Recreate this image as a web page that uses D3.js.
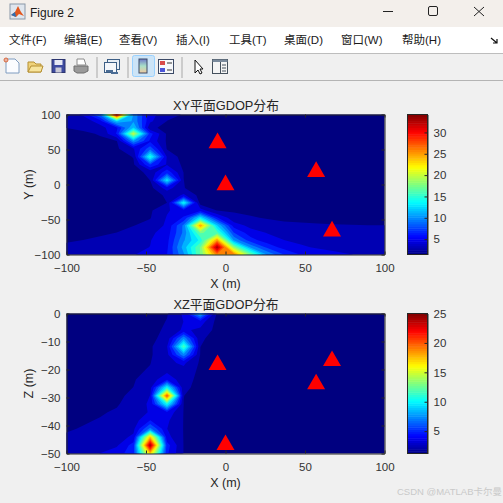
<!DOCTYPE html>
<html>
<head>
<meta charset="utf-8">
<script src="https://cdn.jsdelivr.net/npm/d3@7"></script>
<style>
html, body { margin: 0; padding: 0; background: #f0f0f0; overflow: hidden; }
svg { display: block; }
text { font-family: "Liberation Sans", "Noto Sans CJK SC", sans-serif; }
</style>
</head>
<body>
<svg id="fig" width="503" height="503"></svg>
<script>
var menuLabels = ['文件(F)', '编辑(E)', '查看(V)', '插入(I)', '工具(T)', '桌面(D)', '窗口(W)', '帮助(H)']
var menuStarts = [9, 64, 119, 176, 229, 284, 341, 402]

// grid the surfaces were read on
var xGrid = [-100, -89.5, -78.9, -68.4, -57.9, -47.4, -36.8, -26.3, -15.8, -5.3, 5.3, 15.8, 26.3, 36.8, 47.4, 57.9, 68.4, 78.9, 89.5, 100]
var yGrid = [100, 90.5, 81, 72.5, 62, 51, 39.5, 28.5, 17, 6, -5, -15.5, -26, -37, -47.5, -58.5, -69, -79.5, -89.5, -100]
var zGrid = [0, -2.94, -5.88, -8.82, -11.76, -14.71, -17.65, -20.59, -23.53, -26.47, -29.41, -32.35, -35.29, -38.24, -41.18, -44.12, -47.06, -50]

// GDOP, one row per y (top to bottom)
var xyGdop = [
  [3.6, 5, 10, 34, 11, 5.2, 3.8, 2.9, 2.5, 2.2, 2, 1.9, 1.8, 1.8, 1.9, 2, 2.1, 2.2, 2.3, 2.4],
  [3.3, 3.6, 5.5, 13, 11, 5, 3, 2.7, 2.4, 2.1, 1.9, 1.8, 1.7, 1.7, 1.8, 1.9, 2, 2.1, 2.2, 2.3],
  [3.05, 3.2, 4, 6, 13, 3.3, 2.7, 2.5, 2.3, 2, 1.8, 1.7, 1.6, 1.6, 1.7, 1.8, 1.9, 2, 2.1, 2.2],
  [2.7, 2.9, 3.1, 6.5, 21, 7, 2.8, 2.4, 2.2, 1.9, 1.7, 1.6, 1.6, 1.6, 1.6, 1.7, 1.8, 1.9, 2, 2.1],
  [2.4, 2.5, 2.9, 2.95, 11, 6, 2.8, 2.3, 2.1, 1.8, 1.7, 1.6, 1.5, 1.5, 1.6, 1.6, 1.7, 1.8, 1.9, 2],
  [2.2, 2.2, 2.4, 2.8, 4.5, 9, 2.9, 2.4, 2.1, 1.8, 1.6, 1.5, 1.5, 1.5, 1.5, 1.6, 1.6, 1.7, 1.8, 1.9],
  [2.1, 2.1, 2.2, 2.5, 3.1, 15.5, 4.5, 2.2, 2.1, 1.8, 1.6, 1.5, 1.5, 1.5, 1.5, 1.5, 1.6, 1.7, 1.8, 1.9],
  [2, 2, 2.1, 2.3, 2.8, 8, 4.5, 2.7, 2.2, 1.8, 1.6, 1.5, 1.5, 1.5, 1.5, 1.5, 1.6, 1.7, 1.8, 1.8],
  [1.9, 2, 2, 2.2, 2.5, 3.4, 7.5, 3, 2.2, 1.8, 1.6, 1.5, 1.5, 1.5, 1.5, 1.5, 1.6, 1.6, 1.7, 1.8],
  [1.9, 1.9, 2, 2.1, 2.2, 3.05, 14, 3.05, 2.3, 1.8, 1.6, 1.6, 1.5, 1.5, 1.5, 1.5, 1.6, 1.6, 1.7, 1.8],
  [1.8, 1.9, 1.9, 2, 2.1, 2.5, 5.5, 3.1, 2.3, 1.9, 1.7, 1.6, 1.5, 1.5, 1.5, 1.6, 1.6, 1.7, 1.7, 1.8],
  [1.8, 1.8, 1.9, 2, 2, 2.3, 3.3, 5, 2.4, 2, 1.8, 1.7, 1.6, 1.6, 1.6, 1.6, 1.7, 1.7, 1.8, 1.8],
  [1.8, 1.9, 1.9, 2, 2.1, 2.6, 3.04, 15, 2.2, 2.5, 2.2, 2, 1.9, 1.8, 1.8, 1.8, 1.8, 1.9, 1.9, 1.9],
  [1.9, 1.9, 2, 2.1, 2.3, 2.8, 4.5, 5.5, 5.5, 3, 2.8, 2.6, 2.4, 2.3, 2.2, 2.2, 2.2, 2.2, 2.2, 2.2],
  [2, 2.1, 2.2, 2.3, 2.6, 2.95, 4.8, 6.5, 14, 6.5, 3.6, 3.2, 2.9, 2.7, 2.6, 2.55, 2.5, 2.5, 2.5, 2.5],
  [2.2, 2.3, 2.5, 2.8, 3, 3.5, 5, 10, 26, 13, 5.5, 4.2, 3.7, 3.4, 3.3, 3.2, 3.15, 3.1, 3.05, 3.05],
  [2.6, 2.7, 2.9, 3.05, 3.6, 4.3, 5.5, 10, 18, 17, 8, 5.4, 4.6, 4.1, 3.8, 3.6, 3.5, 3.4, 3.35, 3.3],
  [2.95, 3.05, 3.2, 3.6, 3.9, 4.6, 5.8, 11, 15, 26, 11, 7, 5.4, 4.7, 4.3, 4.1, 3.9, 3.8, 3.7, 3.6],
  [3.2, 3.4, 3.8, 4, 4.4, 4.7, 6, 12, 18, 34, 19, 11, 7.5, 5.6, 4.9, 4.5, 4.3, 4.1, 4, 3.9],
  [3.4, 3.6, 4, 4.2, 4.6, 5.2, 6.3, 11, 18, 27, 27, 18, 11, 8, 6.2, 5.5, 5, 4.7, 4.5, 4.3]
]

// one row per z (top to bottom)
var xzGdop = [
  [1.6, 1.6, 1.7, 1.7, 1.8, 1.9, 2.3, 3.8, 9, 2.2, 1.8, 1.6, 1.5, 1.4, 1.4, 1.4, 1.4, 1.4, 1.5, 1.5],
  [1.6, 1.6, 1.7, 1.7, 1.8, 1.9, 2.45, 3.6, 4.2, 2, 1.8, 1.6, 1.5, 1.4, 1.4, 1.4, 1.4, 1.4, 1.5, 1.5],
  [1.6, 1.7, 1.7, 1.8, 1.9, 2, 2.6, 3.8, 3.3, 2, 1.8, 1.6, 1.5, 1.4, 1.4, 1.4, 1.4, 1.4, 1.5, 1.5],
  [1.7, 1.7, 1.8, 1.8, 1.9, 2.1, 2.8, 8, 2.6, 1.9, 1.7, 1.6, 1.5, 1.4, 1.4, 1.4, 1.4, 1.4, 1.5, 1.5],
  [1.7, 1.7, 1.8, 1.9, 1.9, 2.2, 3.5, 12.5, 2.4, 1.8, 1.7, 1.6, 1.5, 1.4, 1.4, 1.4, 1.4, 1.4, 1.5, 1.5],
  [1.7, 1.8, 1.8, 1.9, 2, 2.25, 3.2, 8, 2.3, 1.8, 1.7, 1.6, 1.5, 1.4, 1.4, 1.4, 1.4, 1.4, 1.5, 1.5],
  [1.8, 1.8, 1.9, 1.9, 2.1, 2.35, 3.3, 3.8, 2.2, 1.8, 1.7, 1.6, 1.5, 1.4, 1.4, 1.4, 1.4, 1.4, 1.5, 1.5],
  [1.8, 1.9, 1.9, 2, 2.2, 2.5, 3.3, 3.2, 2.1, 1.8, 1.7, 1.6, 1.5, 1.4, 1.4, 1.4, 1.4, 1.5, 1.5, 1.5],
  [1.9, 1.9, 2, 2.1, 2.3, 2.9, 4.5, 2.8, 2.1, 1.8, 1.7, 1.6, 1.5, 1.5, 1.4, 1.4, 1.5, 1.5, 1.5, 1.5],
  [1.9, 2, 2, 2.1, 2.4, 3.1, 11, 2.6, 2.1, 1.8, 1.7, 1.6, 1.5, 1.5, 1.5, 1.5, 1.5, 1.5, 1.5, 1.6],
  [2, 2, 2.1, 2.2, 2.6, 3.6, 21, 2.4, 2.1, 1.8, 1.7, 1.6, 1.6, 1.5, 1.5, 1.5, 1.5, 1.5, 1.6, 1.6],
  [2, 2.1, 2.1, 2.3, 2.8, 3.8, 11, 2.38, 2.1, 1.9, 1.7, 1.7, 1.6, 1.6, 1.5, 1.5, 1.5, 1.6, 1.6, 1.6],
  [2.1, 2.1, 2.3, 2.5, 2.9, 3.7, 4.5, 2.35, 2.1, 1.9, 1.8, 1.7, 1.6, 1.6, 1.6, 1.6, 1.6, 1.6, 1.6, 1.7],
  [2.1, 2.3, 2.45, 2.7, 3, 4.8, 3.8, 2.35, 2.1, 1.9, 1.8, 1.7, 1.7, 1.6, 1.6, 1.6, 1.6, 1.6, 1.7, 1.7],
  [2.3, 2.45, 2.6, 2.9, 3.3, 7.5, 3.6, 2.35, 2.1, 1.9, 1.8, 1.7, 1.7, 1.6, 1.6, 1.6, 1.6, 1.7, 1.7, 1.7],
  [2.5, 2.6, 2.8, 3.1, 3.8, 18, 4, 2.35, 2.1, 1.9, 1.8, 1.7, 1.7, 1.7, 1.6, 1.6, 1.7, 1.7, 1.7, 1.7],
  [2.6, 2.8, 3, 3.4, 5.3, 25, 5.3, 2.35, 2.1, 1.9, 1.8, 1.7, 1.7, 1.7, 1.7, 1.7, 1.7, 1.7, 1.7, 1.8],
  [2.8, 3, 3.6, 4.2, 5.5, 18, 5, 2.35, 2.1, 1.9, 1.8, 1.8, 1.7, 1.7, 1.7, 1.7, 1.7, 1.7, 1.8, 1.8]
]

// base stations
var stationX = [-5, 0, 57, 67]
var stationY = [63, 3, 22, -63]
var stationZ = [-17.4, -46, -24.3, -16]

var xTicks = [-100, -50, 0, 50, 100]
var yTicks = [-100, -50, 0, 50, 100]
var zTicks = [-50, -40, -30, -20, -10, 0]
var cbTicks1 = [5, 10, 15, 20, 25, 30]
var cbTicks2 = [5, 10, 15, 20, 25]
var range1 = [1.4, 34.2]
var range2 = [1.2, 25]

var svg = d3.select('#fig'),
    ink = '#262626',
    plotLeft = 66.5,
    plotRight = 384.5,
    barLeft = 407.5,
    barRight = 427.5,
    nLevels = 20

var jet = d3.scaleLinear()
    .domain([0, 1/8, 3/8, 5/8, 7/8, 1])
    .range(['#000080', '#0000ff', '#00ffff', '#ffff00', '#ff0000', '#800000'])

drawWindow()

drawPanel({
    top: 114.5, bottom: 254.5, rows: yGrid, yDomain: [-100, 100], yTicks: yTicks,
    gdop: xyGdop, range: range1, stations: stationY, cbTicks: cbTicks1,
    title: 'XY平面GDOP分布', ylabel: 'Y (m)', id: 'clipA'
})
drawPanel({
    top: 313.5, bottom: 453.5, rows: zGrid, yDomain: [-50, 0], yTicks: zTicks,
    gdop: xzGdop, range: range2, stations: stationZ, cbTicks: cbTicks2,
    title: 'XZ平面GDOP分布', ylabel: 'Z (m)', id: 'clipB'
})

function drawPanel(p) {
    var x = d3.scaleLinear().domain([-100, 100]).range([plotLeft, plotRight])
    var y = d3.scaleLinear().domain(p.yDomain).range([p.bottom, p.top])
    var nx = xGrid.length, ny = p.rows.length

    // d3.contours puts sample i at i + 0.5
    var gridX = d3.scaleLinear()
        .domain(xGrid.map(function(d, i) { return i + 0.5 }))
        .range(xGrid.map(function(d) { return x(d) }))
    var gridY = d3.scaleLinear()
        .domain(p.rows.map(function(d, i) { return i + 0.5 }))
        .range(p.rows.map(function(d) { return y(d) }))
    var path = d3.geoPath(d3.geoTransform({
        point: function(a, b) { this.stream.point(gridX(a), gridY(b)) }
    }))

    var lo = p.range[0], hi = p.range[1]
    var levels = d3.range(nLevels).map(function(k) { return lo + k * (hi - lo) / nLevels })
    var color = d3.scaleLinear().domain([lo, hi]).range([0, 1])

    svg.append('clipPath').attr('id', p.id).append('rect')
        .attr('x', plotLeft).attr('y', p.top)
        .attr('width', plotRight - plotLeft).attr('height', p.bottom - p.top)

    svg.append('g').attr('clip-path', 'url(#' + p.id + ')')
        .selectAll('path')
        .data(d3.contours().size([nx, ny]).thresholds(levels)(d3.merge(p.gdop)))
        .join('path')
        .attr('d', path)
        .attr('fill', function(d) { return jet(color(d.value)) })

    // stations, marker centre is mid height of the triangle
    var tri = d3.symbol().type(d3.symbolTriangle).size(140)
    svg.append('g').selectAll('path')
        .data(stationX)
        .join('path')
        .attr('d', tri)
        .attr('fill', '#ff0000')
        .attr('transform', function(d, i) {
            return 'translate(' + x(d) + ',' + (y(p.stations[i]) + 2.6) + ')'
        })

    axisGroup(d3.axisBottom(x).tickValues(xTicks).tickPadding(9), 0, p.bottom)
    axisGroup(d3.axisLeft(y).tickValues(p.yTicks).tickPadding(6), plotLeft, 0)
    axisGroup(d3.axisTop(x).tickValues(xTicks).tickFormat(''), 0, p.top)
    axisGroup(d3.axisRight(y).tickValues(p.yTicks).tickFormat(''), plotRight, 0)

    svg.append('text')
        .attr('x', (plotLeft + plotRight) / 2 + 0.5).attr('y', p.top - 5)
        .attr('text-anchor', 'middle')
        .attr('font-size', 12.8)
        .attr('fill', ink)
        .text(p.title)

    svg.append('text')
        .attr('x', (plotLeft + plotRight) / 2).attr('y', p.bottom + 33)
        .attr('text-anchor', 'middle')
        .attr('font-size', 12.5)
        .attr('fill', ink)
        .text('X (m)')

    svg.append('text')
        .attr('transform', 'translate(33,' + (p.top + p.bottom) / 2 + ') rotate(-90)')
        .attr('text-anchor', 'middle')
        .attr('font-size', 12.5)
        .attr('fill', ink)
        .text(p.ylabel)

    // colorbar
    var cb = d3.scaleLinear().domain(p.range).range([p.bottom, p.top])
    var steps = d3.range(64)
    var stepH = (p.bottom - p.top) / steps.length
    svg.append('g').selectAll('rect')
        .data(steps)
        .join('rect')
        .attr('x', barLeft)
        .attr('width', barRight - barLeft)
        .attr('y', function(d) { return p.bottom - (d + 1) * stepH })
        .attr('height', stepH + 0.5)
        .attr('fill', function(d) { return jet((d + 0.5) / steps.length) })
    axisGroup(d3.axisRight(cb).tickValues(p.cbTicks).tickPadding(6), barRight, 0)
    svg.append('rect')
        .attr('x', barLeft).attr('y', p.top)
        .attr('width', barRight - barLeft).attr('height', p.bottom - p.top)
        .attr('fill', 'none').attr('stroke', ink).attr('stroke-width', 1)
}

// inward MATLAB style ticks
function axisGroup(axis, tx, ty) {
    var g = svg.append('g')
        .attr('transform', 'translate(' + tx + ',' + ty + ')')
        .call(axis.tickSizeInner(-3).tickSizeOuter(0))
    g.selectAll('path, line').attr('stroke', ink).attr('stroke-width', 1)
    g.selectAll('text')
        .attr('font-family', '"Liberation Sans", sans-serif')
        .attr('font-size', 11.5).attr('fill', '#333333')
    return g
}

function drawWindow() {
    svg.append('rect').attr('width', 503).attr('height', 503).attr('fill', '#f0f0f0')

    // title bar
    svg.append('rect').attr('width', 503).attr('height', 27).attr('fill', '#f3efeb')
    var logo = svg.append('g').attr('transform', 'translate(10,4)')
    logo.append('rect').attr('width', 15).attr('height', 15).attr('fill', '#dfe6ee').attr('stroke', '#8a98a8')
    logo.append('path').attr('d', 'M1 11L5 8L8 2L11 8L14 12L9 10L6 13Z').attr('fill', '#e2571e')
    logo.append('path').attr('d', 'M1 11L5 8L6 13Z').attr('fill', '#2a6fb5')
    svg.append('text').attr('x', 30).attr('y', 17).attr('font-size', 12).attr('fill', '#1a1a1a')
        .attr('font-family', '"Noto Sans", sans-serif').text('Figure 2')
    svg.append('path').attr('d', 'M383 11.5H393').attr('stroke', '#222').attr('fill', 'none')
    svg.append('rect').attr('x', 428.5).attr('y', 6.5).attr('width', 9).attr('height', 9).attr('rx', 1.5)
        .attr('fill', 'none').attr('stroke', '#222')
    svg.append('path').attr('d', 'M474 7L484 16M484 7L474 16').attr('stroke', '#222').attr('fill', 'none')

    // menu bar
    svg.append('rect').attr('y', 27).attr('width', 503).attr('height', 26).attr('fill', '#ffffff')
    svg.append('g').selectAll('text')
        .data(menuLabels)
        .join('text')
        .attr('x', function(d, i) { return menuStarts[i] })
        .attr('y', 44)
        .attr('font-size', 11.5)
        .attr('fill', '#1a1a1a')
        .text(function(d) { return d })
    svg.append('path').attr('d', 'M491 38L497 43M497 39V43H493').attr('stroke', '#111').attr('fill', 'none').attr('stroke-width', 1.2)

    // toolbar
    svg.append('rect').attr('y', 53).attr('width', 503).attr('height', 1).attr('fill', '#bdbdbd')
    svg.append('rect').attr('y', 80).attr('width', 503).attr('height', 1).attr('fill', '#b4b4b4')
    svg.selectAll('.sep').data([96.5, 127.5, 181.5]).join('rect').attr('class', 'sep')
        .attr('x', function(d) { return d }).attr('y', 57).attr('width', 1).attr('height', 21).attr('fill', '#a8a8a8')

    // new file
    svg.append('path').attr('d', 'M6 59H15L19 63V73H6Z').attr('fill', '#fbfcff').attr('stroke', '#7f9cc0')
    svg.append('circle').attr('cx', 6).attr('cy', 60).attr('r', 2).attr('fill', '#e8b0a0').attr('stroke', '#d86a40')
    // open
    svg.append('path').attr('d', 'M28 62H34L36 64H41V72H28Z').attr('fill', '#efd27a').attr('stroke', '#b58f32')
    svg.append('path').attr('d', 'M28 72L31 66H43L41 72Z').attr('fill', '#f7e49c').attr('stroke', '#b58f32')
    // save
    svg.append('rect').attr('x', 52).attr('y', 59.5).attr('width', 13).attr('height', 13).attr('fill', '#3d4aa0').attr('stroke', '#2c356f')
    svg.append('rect').attr('x', 54.5).attr('y', 60).attr('width', 8).attr('height', 5).attr('fill', '#e6e8f4')
    svg.append('rect').attr('x', 55.5).attr('y', 67.5).attr('width', 6).attr('height', 5).attr('fill', '#c9c9d6')
    // print
    svg.append('path').attr('d', 'M77 59H84L86 65H77Z').attr('fill', '#ffffff').attr('stroke', '#8c8c8c')
    svg.append('path').attr('d', 'M74 66H88V71L84 73H77L74 71Z').attr('fill', '#9a9a9a').attr('stroke', '#6e6e6e')
    // link plot
    svg.append('rect').attr('x', 107.5).attr('y', 59.5).attr('width', 12).attr('height', 10).attr('fill', '#e8eef6').attr('stroke', '#3d5f86')
    svg.append('rect').attr('x', 104.5).attr('y', 62.5).attr('width', 12).attr('height', 10).attr('fill', '#f4f6fa').attr('stroke', '#3d5f86')
    svg.append('path').attr('d', 'M106 71H113M111 73H118').attr('stroke', '#4a6c94').attr('stroke-width', 2).attr('fill', 'none')
    // colorbar toggle, pressed
    svg.append('rect').attr('x', 132.5).attr('y', 55.5).attr('width', 22).attr('height', 21).attr('rx', 2)
        .attr('fill', '#cce4f7').attr('stroke', '#99d1ff')
    var grad = svg.append('linearGradient').attr('id', 'tbGrad').attr('x1', 0).attr('x2', 0).attr('y1', 0).attr('y2', 1)
    grad.append('stop').attr('offset', 0).attr('stop-color', '#6f78c8')
    grad.append('stop').attr('offset', 0.5).attr('stop-color', '#a8e0c8')
    grad.append('stop').attr('offset', 1).attr('stop-color', '#f0c8a0')
    svg.append('rect').attr('x', 139).attr('y', 59).attr('width', 8).attr('height', 14)
        .attr('fill', 'url(#tbGrad)').attr('stroke', '#3b4a66')
    // legend
    svg.append('rect').attr('x', 158.5).attr('y', 59.5).attr('width', 15).attr('height', 14).attr('fill', '#f6f8fb').attr('stroke', '#3b4a66')
    svg.append('rect').attr('x', 160).attr('y', 61).attr('width', 5).attr('height', 4).attr('fill', '#d84b4b')
    svg.append('rect').attr('x', 160).attr('y', 68).attr('width', 5).attr('height', 4).attr('fill', '#4b55d8')
    svg.append('path').attr('d', 'M167 63H172M167 70H172').attr('stroke', '#333')
    // pointer
    svg.append('path').attr('d', 'M195 60V73L198 70L200 74L202 73L200 69L203 69Z').attr('fill', '#ffffff').attr('stroke', '#111')
    // panel
    svg.append('rect').attr('x', 212.5).attr('y', 59.5).attr('width', 15).attr('height', 14).attr('fill', '#f4f4f4').attr('stroke', '#44505c')
    svg.append('rect').attr('x', 212.5).attr('y', 59.5).attr('width', 15).attr('height', 2.5).attr('fill', '#7a8a9c')
    svg.append('path').attr('d', 'M220.5 62V73M222 65H226M222 68H226M222 71H226').attr('stroke', '#44505c').attr('fill', 'none')

    // watermark
    svg.append('text').attr('x', 397).attr('y', 495).attr('font-size', 9.5).attr('fill', '#c9c9c9')
        .attr('font-family', '"Noto Sans", "Noto Sans CJK SC", sans-serif').text('CSDN @MATLAB卡尔曼')
}
</script>
</body>
</html>
